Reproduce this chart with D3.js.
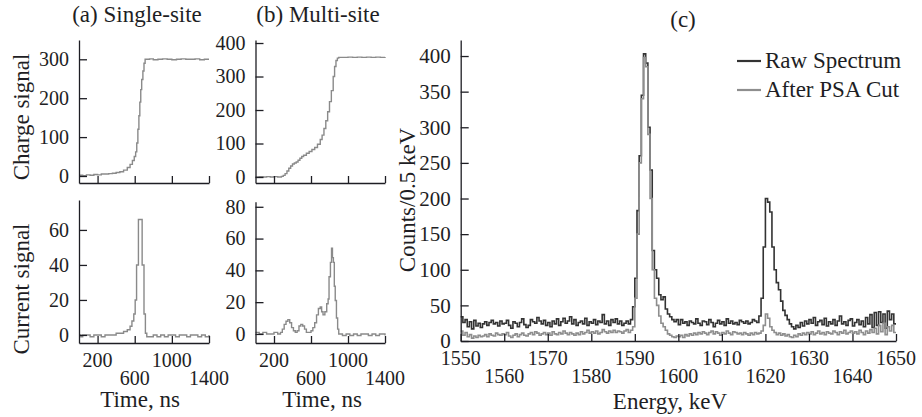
<!DOCTYPE html>
<html>
<head>
<meta charset="utf-8">
<script src="https://cdn.jsdelivr.net/npm/d3@7"></script>
<style>
  body { margin: 0; background: #fff; }
  svg { display: block; font-family: "Liberation Serif", "Times New Roman", serif; }
</style>
</head>
<body>
<svg id="chart" width="922" height="417"></svg>
<script>
// ---- data ----
// waveforms: [time ns, signal]
const chargeSingle = [[0,2],[40,1],[80,3],[120,2],[160,4],[200,3],[240,5],[280,5],[320,6],[360,7],[400,9],[440,11],[480,15],[520,22],[550,30],[575,40],[595,50],[610,62],[622,85],[634,120],[645,155],[655,190],[665,222],[675,248],[688,270],[700,290],[712,300],[760,301],[800,299],[850,300],[900,301],[950,300],[1000,299],[1050,300],[1100,301],[1150,300],[1200,300],[1250,301],[1300,299],[1350,300],[1400,300]];
const currentSingle = [[0,0],[20,-1],[40,0],[80,0],[120,-1],[160,0],[200,0],[240,-1],[280,0],[320,0],[360,0],[400,1],[440,1],[480,2],[520,3],[550,5],[570,8],[590,12],[605,20],[620,40],[640,66],[660,66],[680,40],[700,12],[715,1],[730,-1],[760,-1],[800,0],[840,-1],[880,0],[920,-1],[960,0],[1000,0],[1040,-1],[1080,0],[1120,0],[1160,-1],[1200,0],[1240,0],[1280,-1],[1320,0],[1360,-1],[1400,0]];
const chargeMulti = [[0,0],[40,1],[80,0],[120,1],[160,0],[200,1],[240,0],[280,2],[300,5],[320,10],[340,18],[360,26],[380,33],[400,39],[420,42],[440,45],[460,50],[480,56],[500,61],[520,65],[550,71],[580,76],[610,82],[640,88],[670,98],[700,112],[720,125],[740,145],[760,168],[780,195],[800,225],[820,258],[840,300],[855,330],[870,348],[885,355],[900,357],[950,357],[1000,358],[1050,357],[1100,358],[1150,357],[1200,358],[1250,357],[1300,358],[1350,357],[1400,358]];
const currentMulti = [[0,1],[40,0],[80,1],[120,0],[160,0],[200,1],[240,0],[270,1],[290,3],[310,6],[330,8],[350,9],[370,7],[390,4],[410,2],[430,1],[450,2],[470,5],[490,6],[510,5],[530,3],[550,1],[570,1],[600,2],[620,4],[640,7],[660,12],[680,16],[700,17],[715,14],[730,12],[750,14],[770,19],[785,22],[795,36],[810,45],[822,54],[832,48],[842,45],[852,30],[862,21],[875,10],[888,3],[900,0],[940,-1],[980,0],[1020,-1],[1060,0],[1100,-1],[1140,0],[1180,0],[1220,-1],[1260,0],[1300,-1],[1340,0],[1400,-1]];

// spectrum: 0.5 keV bins starting at 1550 keV
const binStart = 1550;
const binWidth = 0.5;
const rawCounts = [
  34,26,30,20,27,17,29,21,25,19, 24,27,22,26,29,24,26,21,28,24,
  25,29,22,18,27,25,20,26,31,23, 19,22,30,27,25,33,28,24,29,22,
  26,20,28,24,31,22,27,32,25,28, 34,24,30,22,26,28,24,32,22,27,
  25,30,23,28,26,37,24,28,22,30, 26,31,24,28,22,25,28,24,30,48,
  88,183,260,345,403,390,300,240,127,100, 88,65,58,62,45,38,34,30,27,30,
  23,30,25,27,22,28,26,24,31,25, 22,28,27,23,30,26,20,25,29,24,
  27,22,31,25,28,24,26,23,29,27, 25,28,24,26,30,28,26,35,60,132,
  200,195,181,132,100,82,72,56,43,36, 30,24,20,17,22,19,26,21,28,24,
  30,25,33,22,27,29,23,32,21,27, 24,30,22,28,35,24,27,22,29,31,
  21,26,30,23,28,20,33,24,37,19, 40,22,41,26,38,18,42,30,38,24
];
const psaCounts = [
  14,8,12,6,9,4,7,5,8,6, 7,9,6,10,8,7,11,9,8,10,
  9,12,7,5,8,10,6,9,11,8, 7,10,12,9,13,11,8,10,12,9,
  11,8,13,10,9,12,10,14,11,9, 12,10,8,11,9,13,10,12,15,11,
  13,11,14,10,12,16,13,11,14,12, 15,12,14,13,11,14,16,12,15,20,
  60,150,250,340,398,385,290,200,100,60, 50,35,25,20,15,10,8,6,5,7,
  6,8,5,9,7,10,8,11,9,12, 10,13,11,9,12,14,10,13,11,8,
  12,10,14,11,9,13,12,10,11,9, 12,10,8,11,9,12,10,11,14,22,
  38,32,20,15,12,9,11,8,10,7, 9,6,5,8,6,10,8,11,9,12,
  10,13,9,11,14,10,12,9,13,11, 10,14,12,9,13,11,15,10,12,14,
  11,13,10,15,12,9,14,11,16,12, 18,10,22,13,25,9,20,14,22,12
];

const timeTicks = [200, 600, 1000, 1400];
const energyTicks = [1550, 1560, 1570, 1580, 1590, 1600, 1610, 1620, 1630, 1640, 1650];
const countTicks = [0, 50, 100, 150, 200, 250, 300, 350, 400];
const seriesNames = ["Raw Spectrum", "After PSA Cut"];
const seriesColors = ["#333333", "#8e8e8e"];

// ---- drawing ----
const svg = d3.select("#chart");
const ink = "#1e1e24";
const tickFont = 20;
const labelFont = 23;

function styleAxis(g, size) {
  g.selectAll("path, line").attr("stroke", ink).attr("stroke-width", 1.3);
  g.selectAll("text").attr("font-family", null).attr("font-size", size).attr("fill", ink);
  g.attr("font-family", null).attr("font-size", null);
}

function yAxis(y, x0, ticks, size) {
  const g = svg.append("g").attr("transform", `translate(${x0},0)`)
    .call(d3.axisLeft(y).tickValues(ticks).tickSizeInner(-8).tickSizeOuter(0).tickPadding(10));
  styleAxis(g, size || tickFont);
}

// bare x axis line with inward ticks
function xLine(x, y0, ticks) {
  const g = svg.append("g").attr("transform", `translate(0,${y0})`)
    .call(d3.axisBottom(x).tickValues(ticks).tickSizeInner(-7).tickSizeOuter(0).tickFormat(""));
  styleAxis(g, tickFont);
}

function xAxis(x, y0, ticks) {
  xLine(x, y0, ticks);
  // staggered labels, two rows
  svg.append("g").selectAll("text").data(ticks).join("text")
    .attr("x", (d) => x(d))
    .attr("y", (d, i) => y0 + (i % 2 === 0 ? 24 : 42))
    .attr("text-anchor", "middle")
    .attr("font-size", tickFont)
    .attr("fill", ink)
    .text((d) => d);
}

function waveform(x, y, data) {
  svg.append("path").datum(data)
    .attr("fill", "none")
    .attr("stroke", "#8a8a8a")
    .attr("stroke-width", 1.4)
    .attr("d", d3.line().x((d) => x(d[0])).y((d) => y(d[1])).curve(d3.curveStepAfter));
}

function text(x, y, str, size, rotate) {
  const t = svg.append("text")
    .attr("font-size", size)
    .attr("fill", ink)
    .attr("text-anchor", "middle")
    .text(str);
  if (rotate) t.attr("transform", `translate(${x},${y}) rotate(-90)`).attr("dy", "0.35em");
  else t.attr("x", x).attr("y", y);
}

// panel (a)
const xA = d3.scaleLinear().domain([0, 1400]).range([79, 209]);
const yAq = d3.scaleLinear().domain([-18, 349.6]).range([183, 40]);
const yAi = d3.scaleLinear().domain([-4.6, 77.1]).range([343, 200]);
waveform(xA, yAq, chargeSingle);
waveform(xA, yAi, currentSingle);
yAxis(yAq, 79, [0, 100, 200, 300]);
yAxis(yAi, 79, [0, 20, 40, 60]);
xLine(xA, 183, timeTicks);
xAxis(xA, 343, timeTicks);

// panel (b)
const xB = d3.scaleLinear().domain([0, 1400]).range([255.5, 385]);
const yBq = d3.scaleLinear().domain([-17.9, 409]).range([183, 40]);
const yBi = d3.scaleLinear().domain([-5.7, 83.2]).range([343, 201.7]);
waveform(xB, yBq, chargeMulti);
waveform(xB, yBi, currentMulti);
yAxis(yBq, 255.5, [0, 100, 200, 300, 400]);
yAxis(yBi, 255.5, [0, 20, 40, 60, 80]);
xLine(xB, 183, timeTicks);
xAxis(xB, 343, timeTicks);

// panel (c)
const xC = d3.scaleLinear().domain([1550, 1650]).range([460.7, 896]);
const yC = d3.scaleLinear().domain([0, 422.5]).range([341, 40]);
const histLine = d3.line().x((d) => xC(d[0])).y((d) => yC(d[1])).curve(d3.curveStepAfter);
function bins(counts) {
  const pts = counts.map((c, i) => [binStart + i * binWidth, c]);
  pts.push([binStart + counts.length * binWidth, counts[counts.length - 1]]);
  return pts;
}
[rawCounts, psaCounts].forEach((counts, i) => {
  svg.append("path").datum(bins(counts))
    .attr("fill", "none")
    .attr("stroke", seriesColors[i])
    .attr("stroke-width", 1.6)
    .attr("d", histLine);
});
yAxis(yC, 460.7, countTicks, 21);
xAxis(xC, 341, energyTicks);

// legend
seriesNames.forEach((name, i) => {
  const ly = 61 + i * 29;
  svg.append("line").attr("x1", 737).attr("x2", 761).attr("y1", ly).attr("y2", ly)
    .attr("stroke", seriesColors[i]).attr("stroke-width", 2.2);
  svg.append("text").attr("x", 765).attr("y", ly + 7).attr("font-size", labelFont)
    .attr("fill", ink).text(name);
});

// titles and axis labels
text(137, 22, "(a) Single-site", labelFont);
text(318, 22, "(b) Multi-site", labelFont);
text(683, 27, "(c)", labelFont);
text(21, 117, "Charge signal", labelFont, true);
text(21, 289, "Current signal", labelFont, true);
text(407, 200, "Counts/0.5 keV", labelFont, true);
text(140, 407, "Time, ns", labelFont);
text(322, 407, "Time, ns", labelFont);
text(670, 409, "Energy, keV", labelFont);
</script>
</body>
</html>
